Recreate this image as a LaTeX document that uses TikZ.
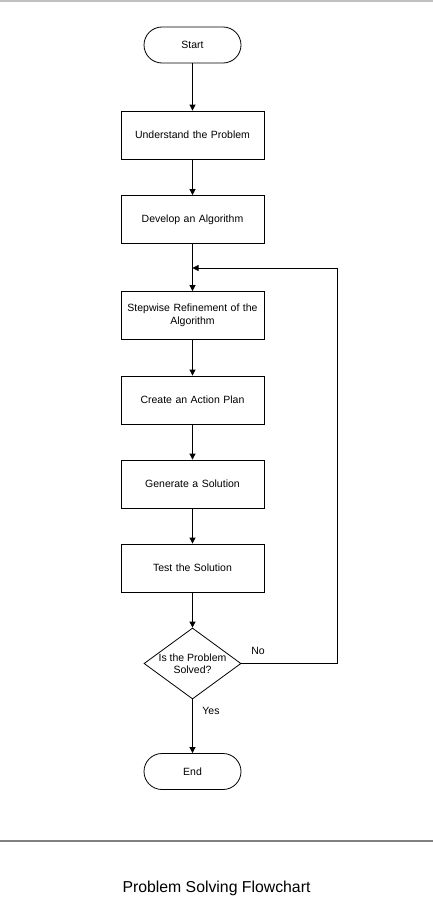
\documentclass[tikz,border=0pt]{standalone}
\usepackage{fontspec}
\setmainfont{Liberation Sans}
\usetikzlibrary{arrows.meta,shapes.geometric}
\begin{document}
\begin{tikzpicture}[x=1pt,y=-1pt,
  every node/.style={font=\fontsize{10.5}{12.5}\selectfont, inner sep=0pt},
  procbox/.style={draw, line width=0.8pt, minimum width=143pt, minimum height=48pt, align=center, text width=138pt},
  term/.style={draw, line width=0.8pt, minimum width=97pt, minimum height=36pt, rounded corners=18pt},
  decision/.style={draw, line width=0.8pt, diamond, minimum width=97pt, minimum height=71pt, aspect=1.37, align=center},
  conn/.style={line width=0.8pt, -{Triangle[length=6pt,width=6pt]}},
  lbl/.style={font=\fontsize{10.5}{12.5}\selectfont}]
\useasboundingbox (0,0) rectangle (433,899);
\fill[white] (0,0) rectangle (433,899);
\draw[line width=2pt, color={rgb,255:red,192;green,192;blue,192}] (0,1) -- (433,1);
\draw[line width=1.8pt, color={rgb,255:red,128;green,128;blue,128}] (0,841) -- (433,841);

\node[term] (start) at (192.5,45) {Start};
\node[procbox] (b1) at (192.5,135) {Understand the Problem};
\node[procbox] (b2) at (192.5,219.5) {Develop an Algorithm};
\node[procbox] (b3) at (192.5,315.5) {Stepwise Refinement of the\\Algorithm};
\node[procbox] (b4) at (192.5,400) {Create an Action Plan};
\node[procbox] (b5) at (192.5,484) {Generate a Solution};
\node[procbox] (b6) at (192.5,568) {Test the Solution};
\node[decision] (d) at (192.5,663.5) {Is the Problem\\Solved?};
\node[term] (end) at (192.5,771.5) {End};

\coordinate (m) at (192.5,268);
\coordinate (r1) at (337,663.5);
\coordinate (r2) at (337,268);

\draw[conn] (start) -- (b1);
\draw[conn] (b1) -- (b2);
\draw[line width=0.8pt] (b2) -- (m);
\draw[conn] (m) -- (b3);
\draw[conn] (b3) -- (b4);
\draw[conn] (b4) -- (b5);
\draw[conn] (b5) -- (b6);
\draw[conn] (b6) -- (d);
\draw[conn] (d) -- (end);
\draw[conn] (d.east) -- (r1) -- (r2) -- (m);

\node[lbl] (no) at (258,651) {No};
\node[lbl] (yes) at (211,711) {Yes};
\node[font=\fontsize{15.8}{19}\selectfont] (title) at (216.5,888) {Problem Solving Flowchart};
\end{tikzpicture}
\end{document}
